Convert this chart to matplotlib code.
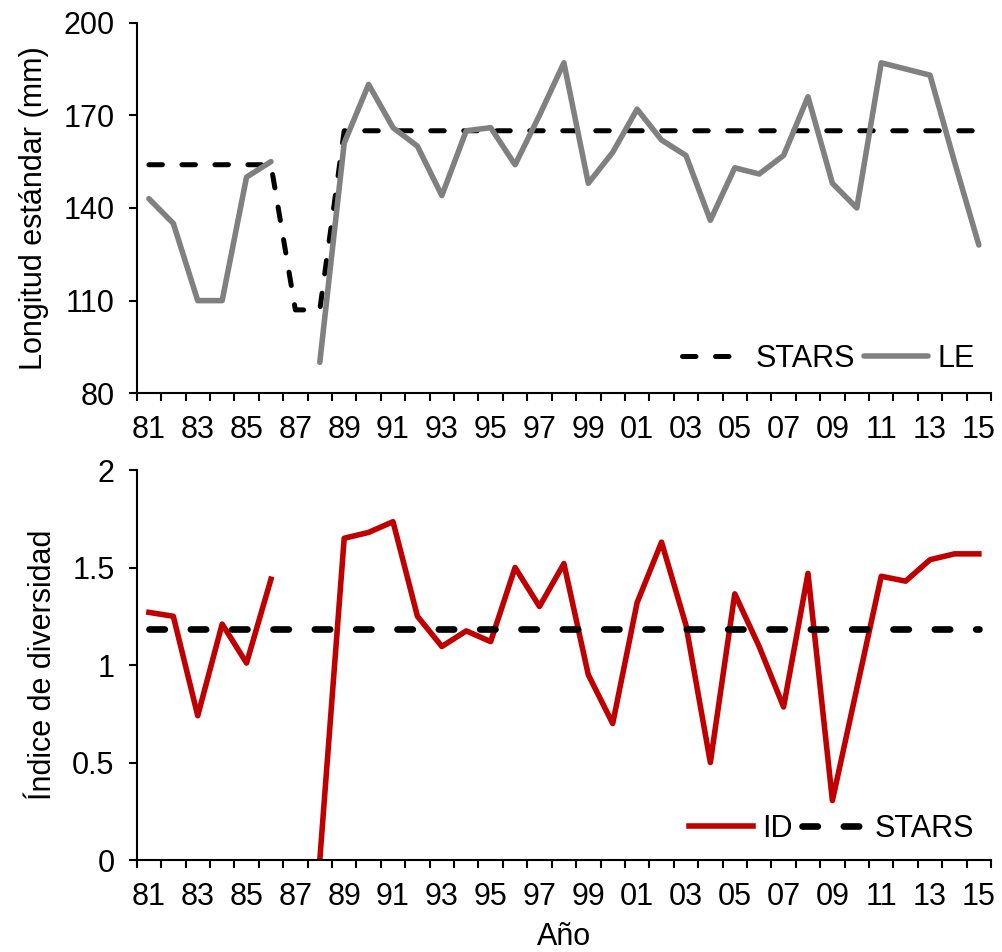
import numpy as np
import matplotlib.pyplot as plt

plt.rcParams['font.family'] = ['Liberation Sans', 'DejaVu Sans']

# años 1981-2015 (etiquetas de dos dígitos)
years = [f'{y % 100:02d}' for y in range(1981, 2016)]

# longitud estándar (mm), sin dato en 1987
le = [143, 135, 110, 110, 150, 155, np.nan, 90, 161, 180, 166, 160, 144, 165, 166,
      154, 170, 187, 148, 158, 172, 162, 157, 136, 153, 151, 157, 176, 148, 140,
      187, 185, 183, 155, 128]
stars_le = [154, 154, 154, 154, 154, 154, 107, 107] + [165] * 27

# índice de diversidad, sin dato en 1987
idx = [1.27, 1.25, 0.74, 1.21, 1.01, 1.44, np.nan, 0.0, 1.65, 1.68, 1.735, 1.25, 1.095,
       1.175, 1.12, 1.50, 1.30, 1.52, 0.95, 0.70, 1.32, 1.63, 1.205, 0.50, 1.365,
       1.095, 0.785, 1.47, 0.305, 0.88, 1.455, 1.43, 1.54, 1.57, 1.57]
stars_id = [1.185] * 35

x = np.arange(len(years))
FS = 22

fig = plt.figure(figsize=(10.03, 9.52), dpi=100)
ax1 = fig.add_axes([0.1363, 0.5869, 0.8518, 0.3893])
ax2 = fig.add_axes([0.1363, 0.0966, 0.8518, 0.4097])


def style_axis(ax):
    for s in ['top', 'right']:
        ax.spines[s].set_visible(False)
    for s in ['left', 'bottom']:
        ax.spines[s].set_linewidth(1.5)
    ax.set_xlim(-0.5, len(years) - 0.5)
    ax.set_xticks(x[::2])
    ax.set_xticklabels(years[::2], fontsize=FS)
    ax.set_xticks(np.arange(-0.5, len(years)), minor=True)
    ax.tick_params(axis='x', which='major', length=0, pad=16)
    ax.tick_params(axis='x', which='minor', length=6, width=1.5, direction='out')
    ax.tick_params(axis='y', length=6, width=1.5, direction='out', labelsize=FS, pad=10)


# gráfico superior
ax1.plot(x, stars_le, color='black', lw=3.6, dashes=(2.7, 3.9),
         dash_capstyle='round', label='STARS')
ax1.plot(x, le, color='#808080', lw=4.0, solid_capstyle='round', label='LE')
ax1.set_ylim(80, 200)
ax1.set_yticks([80, 110, 140, 170, 200])
ax1.set_ylabel('Longitud estándar (mm)', fontsize=FS, labelpad=10)
style_axis(ax1)
ax1.legend(loc='lower right', ncol=2, frameon=False, fontsize=FS, handlelength=2.1,
           columnspacing=0.3, handletextpad=0.3, borderaxespad=0.0,
           bbox_to_anchor=(0.995, 0.02))

# gráfico inferior
ax2.plot(x, idx, color='#C00000', lw=4.0, label='ID')
ax2.plot(x, stars_id, color='black', lw=4.8, dashes=(2.3, 3.9),
         dash_capstyle='round', label='STARS')
ax2.set_ylim(0, 2)
ax2.set_yticks([0, 0.5, 1, 1.5, 2])
ax2.set_yticklabels(['0', '0.5', '1', '1.5', '2'])
ax2.set_ylabel('Índice de diversidad', fontsize=FS, labelpad=10)
ax2.set_xlabel('Año', fontsize=FS, labelpad=7)
style_axis(ax2)
ax2.legend(loc='lower right', ncol=2, frameon=False, fontsize=FS, handlelength=2.1,
           columnspacing=0.3, handletextpad=0.3, borderaxespad=0.0,
           bbox_to_anchor=(0.995, 0.01))

fig.align_ylabels([ax1, ax2])
plt.savefig('out.png', dpi=100)
